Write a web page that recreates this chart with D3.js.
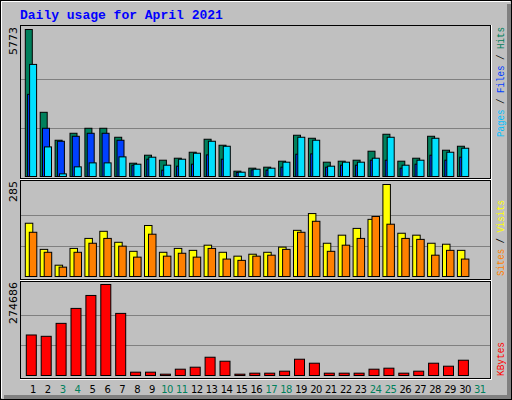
<!DOCTYPE html>
<html><head><meta charset="utf-8">
<script src="https://cdn.jsdelivr.net/npm/d3@7"></script>
<style>body{margin:0;background:#fff}</style></head>
<body><svg id="c" width="512" height="400"></svg>
<script>
const days = d3.range(1,32);
const weekend = [3,4,10,11,17,18,24,25,31];
const hits  = [5773,2521,1424,1698,1894,1894,1541,522,836,640,718,953,1463,1228,209,327,366,601,1620,1502,562,601,640,993,1659,601,718,1580,1032,1188,0];
const files = [3226,1894,1384,1580,1698,1698,1424,444,679,248,405,483,849,679,157,260,248,366,875,888,366,444,444,640,640,327,483,836,640,758,0];
const pages = [4402,1162,104,379,535,535,771,483,758,444,679,914,1384,1188,170,287,327,562,1541,1424,405,562,562,718,1541,444,640,1502,953,1110,0];
const visits= [165,84,35,87,118,140,106,78,158,75,87,81,97,75,63,69,75,91,143,195,103,128,149,177,285,134,128,103,100,81,0];
const sites = [137,75,29,75,103,118,94,60,131,63,72,60,87,54,50,63,66,84,137,171,78,97,118,186,162,118,115,66,81,54,0];
const kbytes= [122306,118296,157393,202506,241604,274686,187467,10025,10025,4010,19048,25063,55137,43107,4010,7018,7018,13033,49122,37093,7018,7018,7018,19048,22055,7018,13033,37093,28070,46115,0];
const maxLabels = ["5773","285","274686"];

const svg = d3.select("#c");
svg.append("rect").attr("width",512).attr("height",400).attr("fill","#c0c0c0");
svg.append("rect").attr("x",0.5).attr("y",0.5).attr("width",511).attr("height",399).attr("fill","none").attr("stroke","#000");
svg.append("path").attr("d","M1.5,398V1.5H510").attr("stroke","#fff").attr("fill","none");
svg.append("rect").attr("x",507).attr("y",4).attr("width",4).attr("height",395).attr("fill","#808080");
svg.append("rect").attr("x",4).attr("y",395).attr("width",507).attr("height",4).attr("fill","#808080");

svg.append("text").attr("x",20).attr("y",19).text("Daily usage for April 2021")
  .attr("font-family","Liberation Mono").attr("font-weight","bold").attr("font-size",13).attr("fill","#0000ff");

const x = d3.scaleLinear().domain([1,31]).range([25.3,25.3+30*14.9]);
const panels = [{t:25,b:178},{t:180,b:279},{t:281,b:378}];
panels.forEach(p=>{
  svg.append("rect").attr("x",20.5).attr("y",p.t+0.5).attr("width",470).attr("height",p.b-p.t).attr("fill","#c0c0c0").attr("stroke","#000");
  svg.append("path").attr("d",`M20,${p.b+1.5}H491.5V${p.t}`).attr("stroke","#fff").attr("fill","none");
});

function grid(y){ [1/3,2/3].forEach(f=>{
  const yy=Math.round(y(y.domain()[1]*f))+0.5;
  svg.append("line").attr("x1",21).attr("x2",490).attr("y1",yy).attr("y2",yy).attr("stroke","#808080");});}

function bars(data,y,off,w,color){
  svg.append("g").selectAll("rect").data(data.map((v,i)=>({v,d:i+1})).filter(o=>o.v>0)).join("rect")
   .attr("x",o=>x(o.d)+off).attr("width",w)
   .attr("y",o=>y(o.v)).attr("height",o=>Math.max(1,y(0)-y(o.v)))
   .attr("fill",color).attr("stroke","#000").attr("stroke-width",1);
}
const y1=d3.scaleLinear().domain([0,5773]).range([176.5,29.5]);
const y2=d3.scaleLinear().domain([0,285]).range([276.5,184.5]);
const y3=d3.scaleLinear().domain([0,274686]).range([375.5,284.5]);
grid(y1);grid(y2);grid(y3);
bars(hits,y1,0,7,"#00805c");
bars(files,y1,2.3,7,"#0040ff");
bars(pages,y1,4.3,7,"#00e0ff");
bars(visits,y2,0,7.5,"#ffff00");
bars(sites,y2,4,7.5,"#ff8000");
bars(kbytes,y3,1,10,"#ff0000");

svg.append("g").selectAll("text").data(days).join("text")
  .attr("x",d=>x(d)+7.5).attr("y",393).attr("text-anchor","middle")
  .attr("font-family","DejaVu Sans").attr("font-size",10).attr("letter-spacing",-0.6)
  .attr("fill",d=>weekend.includes(d)?"#00805c":"#000").text(d=>d);

[[27,maxLabels[0]],[181,maxLabels[1]],[282,maxLabels[2]]].forEach(([yy,t])=>{
  svg.append("text").attr("transform",`translate(17,${yy}) rotate(-90)`).attr("text-anchor","end")
   .attr("font-family","DejaVu Sans").attr("font-size",11).attr("fill","#000").text(t);
});

function sideLabel(yBottom,len,parts){
  const t=svg.append("text").attr("transform",`translate(504,${yBottom}) rotate(-90)`)
   .attr("font-family","Liberation Mono").attr("font-size",11)
   .attr("textLength",len).attr("lengthAdjust","spacingAndGlyphs");
  parts.forEach(([s,c])=>t.append("tspan").attr("fill",c).text(s));
}
sideLabel(137,110,[["Pages","#00c0ff"],[" / ","#000"],["Files","#0040ff"],[" / ","#000"],["Hits","#00805c"]]);
sideLabel(276,76,[["Sites","#ff8000"],[" / ","#000"],["Visits","#ffff00"]]);
sideLabel(376,34,[["KBytes","#ff0000"]]);
</script></body></html>
